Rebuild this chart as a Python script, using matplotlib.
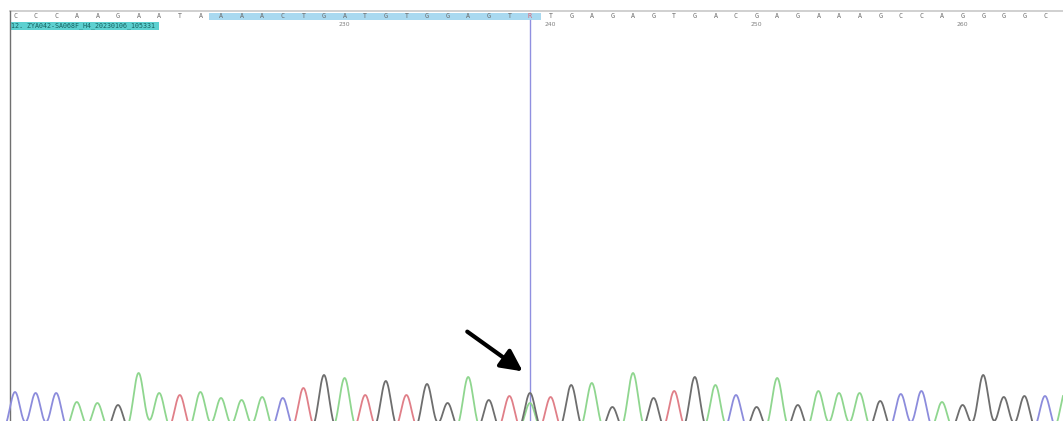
import numpy as np
import matplotlib.pyplot as plt
from matplotlib.patches import Rectangle

# called bases, positions 214..264 (R = A/G mixed peak at 239)
first_pos = 214
bases = "CCCAAGAATAAAACTGATGTGGAGTRTGAGAGTGACGAGAAAGCCAGGGGC"
# peak height of the called base (trace units, baseline sits below the frame)
peak_heights = [41, 40, 40, 31, 30, 28, 60, 40, 38, 41, 35, 33, 36, 35, 45, 58,
                55, 38, 52, 38, 49, 30, 56, 33, 37, 40, 36, 48, 50, 26, 60, 35,
                42, 56, 48, 38, 26, 55, 28, 42, 40, 40, 32, 39, 42, 31, 28, 58,
                36, 37, 37]
# mixed call at 239: G and A peaks
mixed_pos = 239
mixed_peaks = {"G": 40, "A": 30}
# trace continues just past the right edge
tail_base = "A"
tail_height = 42
ruler_labels = [230, 240, 250, 260]
sample_name = "12. ZYA042-SA068F_H4_20230106_105331"
cursor_pos = 239
highlight = (223.4, 239.55)

colors = {"A": "#8fd68f", "C": "#8c8cdc", "G": "#6e6e6e", "T": "#e07f88"}

H = 421
depth = 12  # trace baseline hidden below the bottom edge
fig = plt.figure(figsize=(10.63, 4.21), dpi=100)
ax = fig.add_axes([0, 0, 1, 1])
step = 20.6
x0 = first_pos - 15 / step
ax.set_xlim(x0, x0 + 1063 / step)
ax.set_ylim(depth, H + depth)
ax.axis("off")
H = H + depth

# build traces
x = np.linspace(x0, x0 + 1063 / step, 4000)
sigma = 0.25
traces = {b: np.zeros_like(x) for b in "ACGT"}
positions = np.arange(first_pos, first_pos + len(bases))
for pos, b, h in zip(positions, bases, peak_heights):
    if b in traces:
        traces[b] += h * np.exp(-0.5 * ((x - pos) / sigma) ** 2)
for b, h in mixed_peaks.items():
    traces[b] += h * np.exp(-0.5 * ((x - mixed_pos) / sigma) ** 2)
traces[tail_base] += tail_height * np.exp(-0.5 * ((x - positions[-1] - 1) / sigma) ** 2)

for b in "CATG":
    ax.plot(x, traces[b], color=colors[b], lw=1.3, zorder=3)

# header: ruler line, highlight, letters
ax.plot([x0 + 10 / step, x0 + 1063 / step], [H - 11, H - 11], color="#c8c8c8", lw=1.2, zorder=2)
ax.add_patch(Rectangle((highlight[0], H - 20), highlight[1] - highlight[0], 6.7,
                       facecolor="#a9d9f0", edgecolor="none", zorder=1))
for pos, b in zip(positions, bases):
    ax.text(pos, H - 15.5, b, ha="center", va="center", fontsize=4.8,
            family="DejaVu Sans Mono", color="#e06070" if b == "R" else "#6a6a6a", zorder=4)
for lab in ruler_labels:
    ax.text(lab, H - 24, str(lab), ha="center", va="center", fontsize=4.4,
            color="#808080", zorder=4)

# sample label
ax.add_patch(Rectangle((x0 + 10 / step, H - 30), 149 / step, 8.5,
                       facecolor="#5cd0d0", edgecolor="none", zorder=1))
ax.text(x0 + 11 / step, H - 25.8, sample_name, ha="left", va="center", fontsize=4.8,
        family="DejaVu Sans Mono", color="#16605f", zorder=4)

# left frame line and cursor
ax.plot([x0 + 9.5 / step] * 2, [0, H - 11], color="#707070", lw=1.0, zorder=2)
ax.plot([cursor_pos, cursor_pos], [0, H - 20], color="#9090e0", lw=1.0, zorder=2)

# arrow
ax.annotate("", xy=(x0 + 525 / step, depth + 48), xytext=(x0 + 465 / step, depth + 91),
            arrowprops=dict(arrowstyle="-|>,head_length=1.3,head_width=0.65",
                            color="black", lw=3.0), zorder=5)

fig.savefig("out.png", dpi=100)
